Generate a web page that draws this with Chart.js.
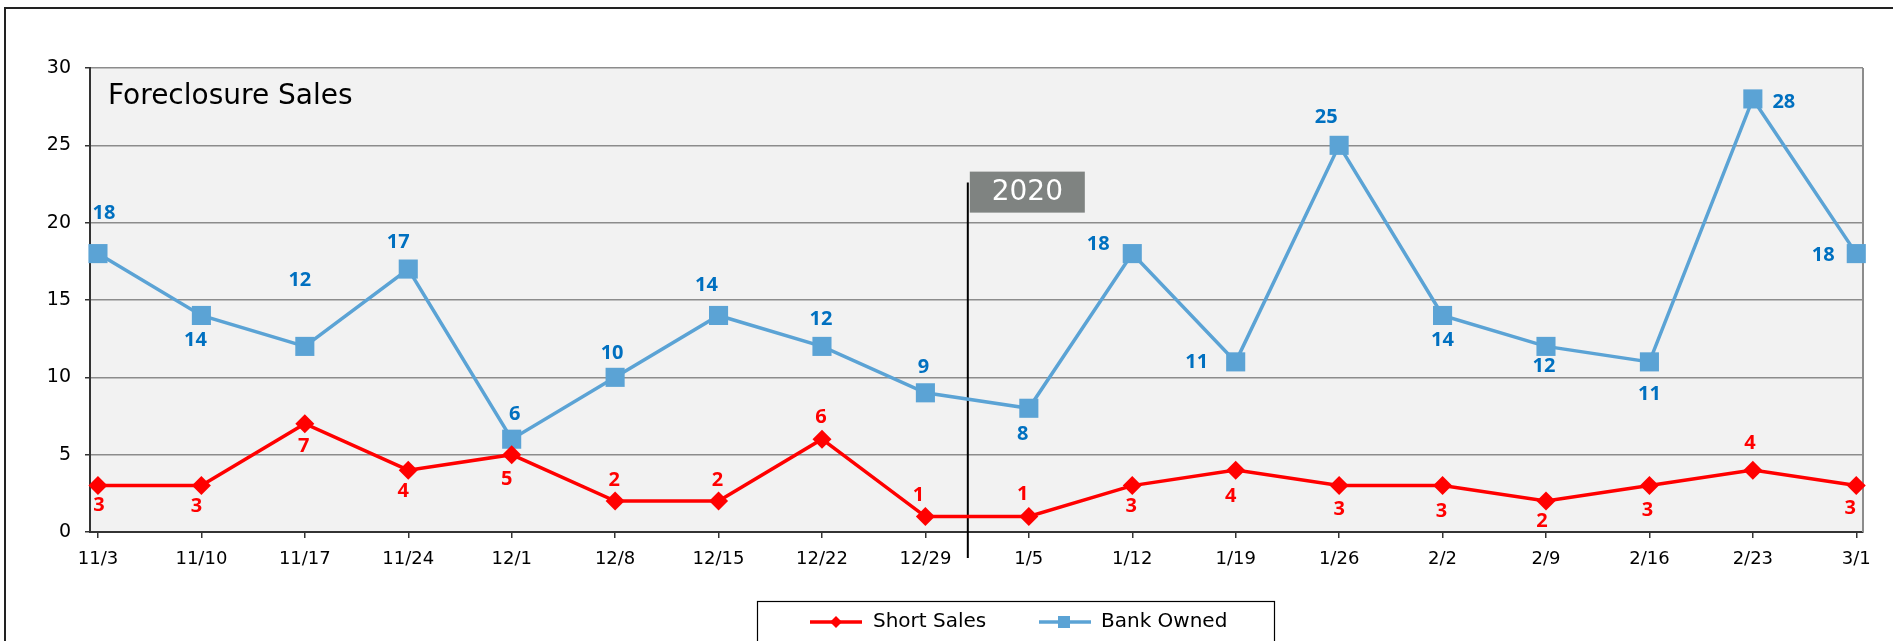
<!DOCTYPE html>
<html>
<head>
<meta charset="utf-8">
<script src="https://cdn.jsdelivr.net/npm/chart.js@4.4.1/dist/chart.umd.min.js"></script>
<style>
html, body { margin: 0; padding: 0; background: #fff; overflow: hidden; }
</style>
</head>
<body>
<canvas id="salesChart" width="1893" height="641"></canvas>
<script>
// 주차별 데이터
const weekLabels = ['11/3', '11/10', '11/17', '11/24', '12/1', '12/8', '12/15', '12/22', '12/29',
    '1/5', '1/12', '1/19', '1/26', '2/2', '2/9', '2/16', '2/23', '3/1'];
const shortSales = [3, 3, 7, 4, 5, 2, 2, 6, 1, 1, 3, 4, 3, 3, 2, 3, 4, 3];
const bankOwned = [18, 14, 12, 17, 6, 10, 14, 12, 9, 8, 18, 11, 25, 14, 12, 11, 28, 18];
const yTicks = [0, 5, 10, 15, 20, 25, 30];
const yearMark = '2020';
const yearMarkAt = 8.41; // 12/29 와 1/5 사이

// 값 라벨 위치 (점 기준 px 오프셋)
const shortLabelOffset = [[1, 20], [-5, 21], [-1, 23], [-5, 21], [-5, 25], [-1, -21], [-1, -21], [-1, -22], [-7, -21],
    [-6, -22], [-1, 21], [-5, 26], [0, 24], [-1, 26], [-4, 20], [-2, 25], [-3, -27], [-6, 23]];
const bankLabelOffset = [[6, -40], [-6, 25], [-5, -66], [-10, -27], [3, -25], [-3, -24], [-12, -30], [-1, -27], [-2, -26],
    [-6, 26], [-34, -9], [-39, 0], [-13, -28], [0, 25], [-2, 20], [0, 32], [31, 3], [-33, 2]];

const RED = '#ff0000';
const BLUE = '#5ba3d5';
const BLUE_TEXT = '#0070c0';
const FONT = 'DejaVu Sans';

const extras = {
    id: 'extras',
    beforeDraw(chart) {
        const { ctx, chartArea: a } = chart;
        ctx.save();
        ctx.fillStyle = '#f2f2f2';
        ctx.fillRect(a.left, a.top, a.right - a.left, a.bottom - a.top);
        ctx.restore();
    },
    beforeDatasetsDraw(chart) {
        const { ctx, chartArea: a } = chart;
        ctx.save();
        ctx.strokeStyle = '#8c8c8c';
        ctx.lineWidth = 2;
        ctx.beginPath();
        ctx.moveTo(a.right, a.top);
        ctx.lineTo(a.right, a.bottom);
        ctx.stroke();

        ctx.fillStyle = '#000';
        ctx.font = '28px "' + FONT + '"';
        ctx.textBaseline = 'alphabetic';
        ctx.fillText('Foreclosure Sales', a.left + 18, a.top + 36);

        // 2020 구분선
        const xs = chart.scales.x, ys = chart.scales.y;
        const lx = xs.getPixelForValue(yearMarkAt);
        ctx.strokeStyle = '#000';
        ctx.lineWidth = 2;
        ctx.beginPath();
        ctx.moveTo(lx, ys.getPixelForValue(22.6));
        ctx.lineTo(lx, a.bottom + 26);
        ctx.stroke();
        const bt = ys.getPixelForValue(23.3);
        ctx.fillStyle = '#7f8381';
        ctx.fillRect(lx + 2, bt, 115, 41);
        ctx.fillStyle = '#fff';
        ctx.font = '28px "' + FONT + '"';
        ctx.textAlign = 'center';
        ctx.textBaseline = 'middle';
        ctx.fillText(yearMark, lx + 2 + 57.5, bt + 21);
        ctx.restore();
    },
    afterDatasetsDraw(chart) {
        const { ctx } = chart;
        ctx.save();
        ctx.font = 'bold 20px "Noto Sans"';
        ctx.textAlign = 'center';
        ctx.textBaseline = 'middle';
        const sets = [[0, shortLabelOffset, RED, shortSales], [1, bankLabelOffset, BLUE_TEXT, bankOwned]];
        sets.forEach(([idx, off, col, vals]) => {
            const meta = chart.getDatasetMeta(idx);
            ctx.fillStyle = col;
            meta.data.forEach((pt, i) => {
                ctx.fillText(String(vals[i]), pt.x + off[i][0], pt.y + off[i][1]);
            });
        });
        ctx.restore();
    },
    afterDraw(chart) {
        const { ctx } = chart;
        ctx.save();
        // 바깥 테두리
        ctx.strokeStyle = '#222';
        ctx.lineWidth = 2;
        ctx.beginPath();
        ctx.moveTo(5, 641);
        ctx.lineTo(5, 8);
        ctx.lineTo(1893, 8);
        ctx.stroke();

        // 범례
        ctx.lineWidth = 1.2;
        ctx.strokeStyle = '#000';
        ctx.strokeRect(757.5, 601.5, 517, 60);
        const ly = 622;
        ctx.lineWidth = 3.5;
        ctx.strokeStyle = RED;
        ctx.beginPath(); ctx.moveTo(810, ly); ctx.lineTo(862, ly); ctx.stroke();
        ctx.fillStyle = RED;
        ctx.beginPath();
        ctx.moveTo(836, ly - 6); ctx.lineTo(842, ly); ctx.lineTo(836, ly + 6); ctx.lineTo(830, ly);
        ctx.closePath(); ctx.fill();
        ctx.strokeStyle = BLUE;
        ctx.beginPath(); ctx.moveTo(1039, ly); ctx.lineTo(1091, ly); ctx.stroke();
        ctx.fillStyle = BLUE;
        ctx.fillRect(1064 - 6, ly - 6, 12, 12);
        ctx.fillStyle = '#000';
        ctx.font = '20px "' + FONT + '"';
        ctx.textBaseline = 'middle';
        ctx.fillText('Short Sales', 873, ly);
        ctx.fillText('Bank Owned', 1101, ly);
        ctx.restore();
    }
};

const ctx = document.getElementById('salesChart');

new Chart(ctx, {
    type: 'line',
    data: {
        datasets: [{
            label: 'Short Sales',
            data: shortSales.map((v, i) => ({ x: i, y: v })),
            borderColor: RED,
            backgroundColor: RED,
            borderWidth: 3.5,
            pointStyle: 'rectRot',
            pointRadius: 9.5,
            pointBorderWidth: 0,
            tension: 0,
            clip: false
        }, {
            label: 'Bank Owned',
            data: bankOwned.map((v, i) => ({ x: i, y: v })),
            borderColor: BLUE,
            backgroundColor: BLUE,
            borderWidth: 3.5,
            pointStyle: 'rect',
            pointRadius: 13.5,
            pointBorderWidth: 0,
            tension: 0,
            clip: false
        }]
    },
    options: {
        responsive: false,
        animation: false,
        layout: { padding: { top: 68, right: 30, left: 0, bottom: 0 } },
        plugins: {
            legend: { display: false },
            tooltip: { enabled: false }
        },
        scales: {
            x: {
                type: 'linear',
                min: -0.077,
                max: 17.065,
                afterBuildTicks: s => { s.ticks = weekLabels.map((_, i) => ({ value: i })); },
                afterFit: s => { s.height = 109; },
                ticks: {
                    callback: v => weekLabels[v],
                    autoSkip: false,
                    maxRotation: 0,
                    padding: 11,
                    color: '#000',
                    font: { family: FONT, size: 18 }
                },
                grid: { drawOnChartArea: false, tickLength: 6, color: '#333', lineWidth: 1.5 },
                border: { color: '#333', width: 2 }
            },
            y: {
                min: 0,
                max: 30,
                afterBuildTicks: s => { s.ticks = yTicks.map(v => ({ value: v })); },
                afterFit: s => { s.width = 90; },
                ticks: {
                    padding: 14,
                    color: '#000',
                    font: { family: FONT, size: 19 }
                },
                grid: { color: '#8c8c8c', lineWidth: 1.5, tickLength: 5, tickColor: '#333' },
                border: { color: '#333', width: 2 }
            }
        }
    },
    plugins: [extras]
});
</script>
</body>
</html>
